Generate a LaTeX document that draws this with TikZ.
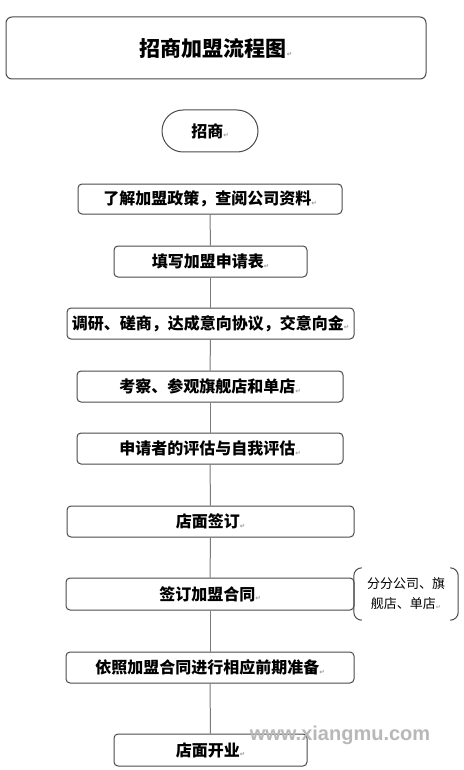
\documentclass[tikz,border=0pt]{standalone}
\usepackage{fontspec}
\usepackage{xcolor}
\newfontfamily\cjk{Noto Sans CJK SC}
\newfontfamily\dejavu{DejaVu Sans}
\newfontfamily\wmfont{Liberation Sans}
\newcommand\pmark{{\color{black!40}\dejavu\fontsize{6.5}{7}\selectfont\raisebox{-0.5pt}{↵}}}
\definecolor{boxline}{HTML}{4A4A4A}
\definecolor{connline}{HTML}{7A7A7A}
\definecolor{wmgray}{HTML}{B8B8B8}
\begin{document}
\begin{tikzpicture}[x=1pt,y=-1pt,
  flowbox/.style={draw=boxline,line width=1pt,rounded corners=4pt,inner sep=0pt,
    font=\cjk\bfseries\fontsize{16}{18}\selectfont,text=black},
  titlebox/.style={draw=boxline,line width=1pt,rounded corners=6pt,inner sep=0pt,
    minimum width=420pt,minimum height=62pt,font=\cjk\bfseries\fontsize{21}{24}\selectfont},
  startbox/.style={draw=boxline,line width=1pt,rounded corners=21pt,inner sep=0pt,
    minimum width=96pt,minimum height=42pt,font=\cjk\bfseries\fontsize{16}{18}\selectfont},
  notebox/.style={inner sep=0pt,minimum width=104pt,minimum height=52pt,align=center,
    font=\cjk\fontsize{13}{20}\selectfont},
  conn/.style={draw=connline,line width=1pt},
  bracket/.style={draw=boxline,line width=1pt},
  watermark/.style={text=wmgray,font=\wmfont\bfseries\fontsize{20}{22}\selectfont,inner sep=0pt}
]
\fill[white] (0,0) rectangle (463,770);
\useasboundingbox (0,0) rectangle (463,770);

\node[titlebox] (title) at (216,48) {招商加盟流程图\pmark};
\node[startbox] (start) at (210,131) {招商\pmark};

\node[flowbox,minimum width=264pt,minimum height=30pt] (b1) at (210,199) {了解加盟政策，查阅公司资料\pmark};
\node[flowbox,minimum width=193pt,minimum height=31pt] (b2) at (210.5,261.5) {填写加盟申请表\pmark};
\node[flowbox,minimum width=287pt,minimum height=31pt] (b3) at (210.5,323.5) {调研、磋商，达成意向协议，交意向金\pmark};
\node[flowbox,minimum width=266pt,minimum height=31pt] (b4) at (210,386.5) {考察、参观旗舰店和单店\pmark};
\node[flowbox,minimum width=266pt,minimum height=31pt] (b5) at (210,448.5) {申请者的评估与自我评估\pmark};
\node[flowbox,minimum width=287pt,minimum height=31pt] (b6) at (210.5,521.5) {店面签订\pmark};
\node[flowbox,minimum width=288pt,minimum height=32pt] (b7) at (210,594) {签订加盟合同\pmark};
\node[flowbox,minimum width=288pt,minimum height=31pt] (b8) at (210,667.5) {依照加盟合同进行相应前期准备\pmark};
\node[flowbox,minimum width=193pt,minimum height=32pt] (b9) at (210.5,750) {店面开业\pmark};

\node[notebox] (note) at (406,594) {分分公司、旗\\ 舰店、单店\pmark};
\draw[bracket] ([xshift=8pt]note.north west) to[out=180,in=90] ([yshift=-8pt]note.north west)
  -- ([yshift=8pt]note.south west) to[out=-90,in=180] ([xshift=8pt]note.south west);
\draw[bracket] ([xshift=-8pt]note.north east) to[out=0,in=90] ([yshift=-8pt]note.north east)
  -- ([yshift=8pt]note.south east) to[out=-90,in=0] ([xshift=-8pt]note.south east);

\draw[conn] (b1) -- (b2);
\draw[conn] (b2) -- (b3);
\draw[conn] (b3) -- (b4);
\draw[conn] (b4) -- (b5);
\draw[conn] (b5) -- (b6);
\draw[conn] (b6) -- (b7);
\draw[conn] (b7) -- (b8);
\draw[conn] (b8) -- (b9);

\node[watermark] (wm) at (340,735) {www.xiangmu.com};
\end{tikzpicture}
\end{document}
